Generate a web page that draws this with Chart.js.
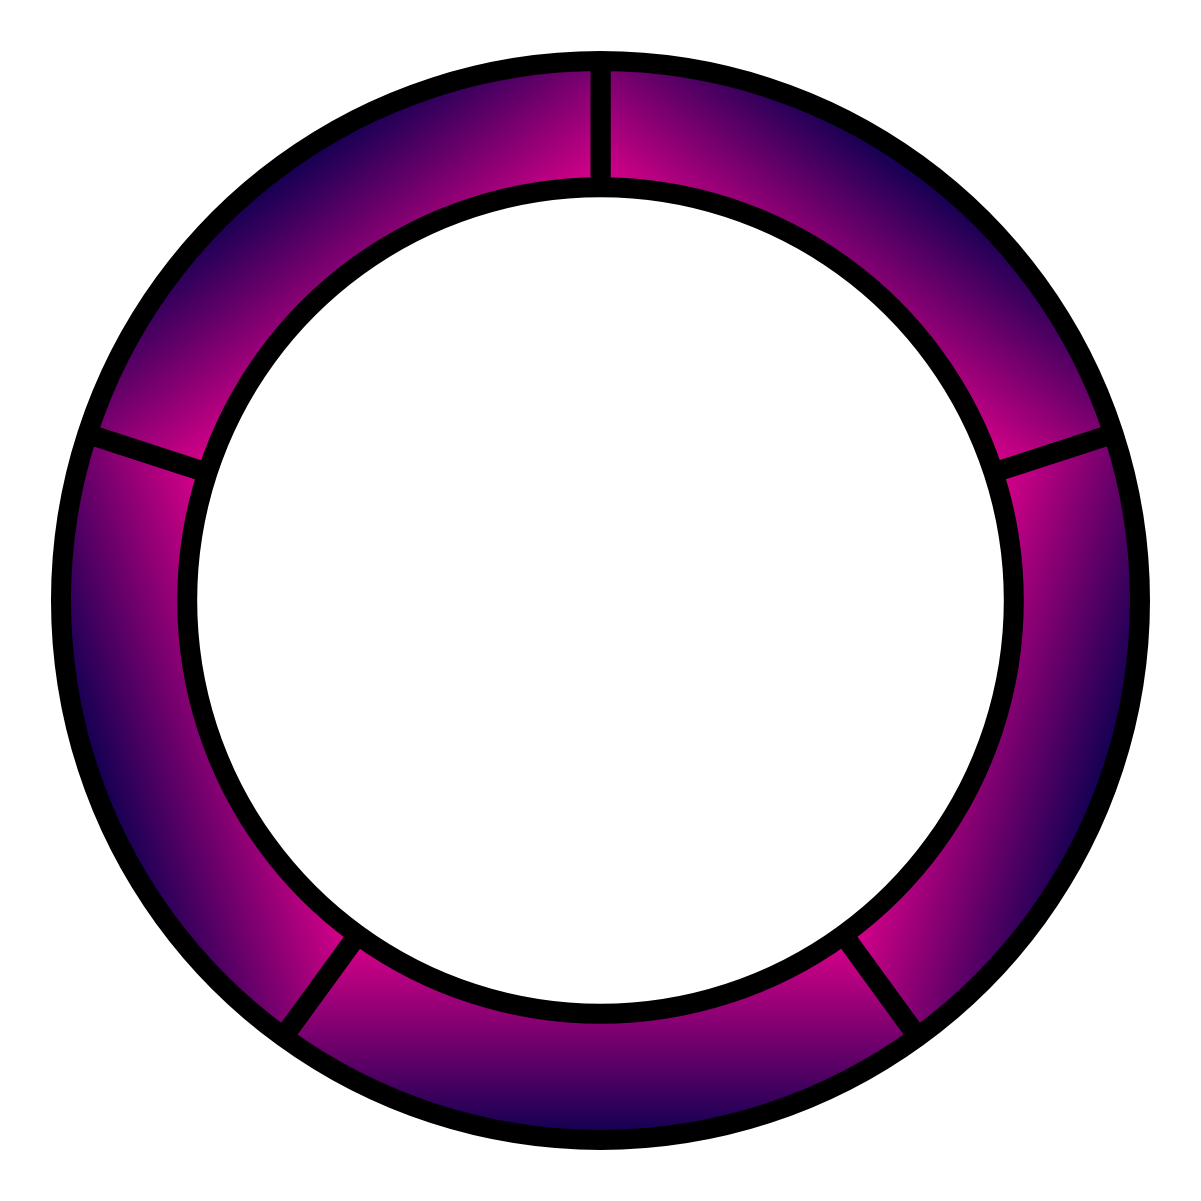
<!DOCTYPE html>
<html>
<head>
<meta charset="utf-8">
<script src="https://cdn.jsdelivr.net/npm/chart.js@4"></script>
<style>
  html, body { margin: 0; padding: 0; background: #fff; }
  #wrap { width: 1201px; height: 1201px; }
</style>
</head>
<body>
<div id="wrap"><canvas id="ringChart"></canvas></div>
<script>
// data
const segmentLabels = ["Segment 1", "Segment 2", "Segment 3", "Segment 4", "Segment 5"];
const segmentValues = [20, 20, 20, 20, 20];

// gradient colours, inner -> outer
const innerColor = "#e1008c";
const outerColor = "#0c0050";

const outerRadius = 539.5;
const innerRadius = 413.3;

// linear gradient per segment, running along its middle angle
function segmentGradient(context) {
  const chart = context.chart;
  const area = chart.chartArea;
  if (!area) return innerColor;
  const cx = (area.left + area.right) / 2;
  const cy = (area.top + area.bottom) / 2;
  const values = context.dataset.data;
  const total = values.reduce((a, b) => a + b, 0);
  let before = 0;
  for (let i = 0; i < context.dataIndex; i++) before += values[i];
  const span = values[context.dataIndex] / total * Math.PI * 2;
  const start = before / total * Math.PI * 2 - Math.PI / 2;
  const mid = start + span / 2;
  const r0 = innerRadius * Math.cos(span / 2);
  const g = chart.ctx.createLinearGradient(
    cx + r0 * Math.cos(mid), cy + r0 * Math.sin(mid),
    cx + outerRadius * Math.cos(mid), cy + outerRadius * Math.sin(mid)
  );
  g.addColorStop(0, innerColor);
  g.addColorStop(1, outerColor);
  return g;
}

const ringCtx = document.getElementById("ringChart");

new Chart(ringCtx, {
  type: "doughnut",
  data: {
    labels: segmentLabels,
    datasets: [
      {
        data: segmentValues,
        backgroundColor: segmentGradient,
        borderColor: "#000",
        borderWidth: 20,
      },
    ],
  },
  options: {
    responsive: true,
    maintainAspectRatio: false,
    animation: false,
    radius: outerRadius,
    // cutout % is taken of the outer radius here
    cutout: (innerRadius / outerRadius * 100).toFixed(2) + "%",
    plugins: {
      legend: { display: false },
      tooltip: { enabled: false },
    },
  },
});
</script>
</body>
</html>
